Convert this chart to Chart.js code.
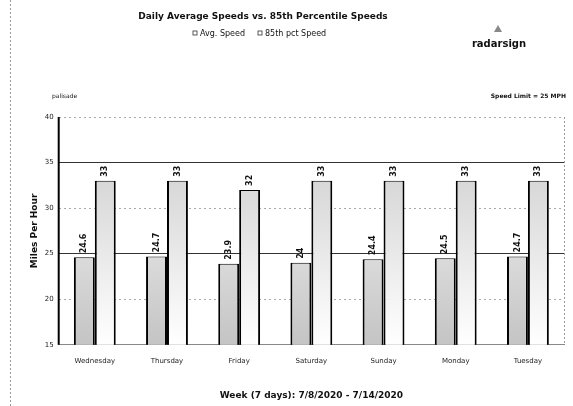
<!DOCTYPE html>
<html>
<head>
<meta charset="utf-8">
<script src="https://cdn.jsdelivr.net/npm/chart.js@4"></script>
<style>
  html, body { margin: 0; padding: 0; background: #fff; }
  #wrap { width: 573px; height: 406px; }
</style>
</head>
<body>
<div id="wrap"><canvas id="speedChart" width="573" height="406"></canvas></div>
<script>
// data
const days = ['Wednesday', 'Thursday', 'Friday', 'Saturday', 'Sunday', 'Monday', 'Tuesday'];
const avgSpeed = [24.6, 24.7, 23.9, 24, 24.4, 24.5, 24.7];
const pct85Speed = [33, 33, 32, 33, 33, 33, 33];
const yTicks = [15, 20, 25, 30, 35, 40];
const speedLimit = 25;

function fadeFill(ctx, topCol, bottomCol) {
    const area = ctx.chart.chartArea;
    if (!area) return topCol;
    const g = ctx.chart.ctx.createLinearGradient(0, area.top, 0, area.bottom);
    g.addColorStop(0, topCol);
    g.addColorStop(1, bottomCol);
    return g;
}

function strongLine(ctx) {
    return ctx.tick && (ctx.tick.value === speedLimit || ctx.tick.value === 35);
}

// labels above bars, turned on their side
const barLabels = {
    id: 'barLabels',
    afterDatasetsDraw(chart) {
        const c = chart.ctx;
        c.save();
        c.font = 'bold 8px "DejaVu Sans"';
        c.fillStyle = '#111';
        c.textAlign = 'left';
        c.textBaseline = 'middle';
        chart.data.datasets.forEach((ds, i) => {
            chart.getDatasetMeta(i).data.forEach((bar, j) => {
                c.save();
                c.translate(bar.x, bar.y - 4);
                c.rotate(-Math.PI / 2);
                c.fillText(String(ds.data[j]), 0, 0);
                c.restore();
            });
        });
        c.restore();
    }
};

// header texts, legend and page edge
const decor = {
    id: 'decor',
    afterDraw(chart) {
        const c = chart.ctx;
        const area = chart.chartArea;
        c.save();
        c.fillStyle = '#111';
        c.textBaseline = 'middle';
        c.textAlign = 'center';
        c.font = 'bold 9px "DejaVu Sans"';
        c.fillText('Daily Average Speeds vs. 85th Percentile Speeds', 263, 17);

        // legend
        c.font = '8px "DejaVu Sans"';
        c.textAlign = 'left';
        const items = [['Avg. Speed', 200], ['85th pct Speed', 265]];
        items.forEach(([t, x]) => {
            c.strokeStyle = '#333';
            c.lineWidth = 0.8;
            c.strokeRect(x - 7, 31, 4, 4);
            c.fillText(t, x, 33.5);
        });

        // logo
        c.textAlign = 'center';
        c.font = 'bold 10px "DejaVu Sans"';
        c.fillText('radarsign', 499, 44);
        c.fillStyle = '#888';
        c.beginPath();
        c.moveTo(498, 25); c.lineTo(494, 32); c.lineTo(502, 32); c.closePath();
        c.fill();

        c.fillStyle = '#111';
        c.font = '6px "DejaVu Sans"';
        c.textAlign = 'left';
        c.fillText('palisade', 52, 96);
        c.textAlign = 'right';
        c.font = 'bold 6px "DejaVu Sans"';
        c.fillText('Speed Limit = 25 MPH', 566, 96);

        // dashed page edge on the left
        c.strokeStyle = '#999';
        c.lineWidth = 1;
        c.setLineDash([2, 2]);
        c.beginPath();
        c.moveTo(10.5, 0); c.lineTo(10.5, 406);
        c.stroke();
        // dotted right frame
        c.beginPath();
        c.moveTo(area.right + 0.5, area.top); c.lineTo(area.right + 0.5, area.bottom);
        c.stroke();
        c.setLineDash([]);
        // thick left axis
        c.strokeStyle = '#000';
        c.lineWidth = 2;
        c.beginPath();
        c.moveTo(area.left, area.top); c.lineTo(area.left, area.bottom);
        c.stroke();
        c.restore();
    }
};

new Chart(document.getElementById('speedChart'), {
    type: 'bar',
    data: {
        labels: days,
        datasets: [{
            label: 'Avg. Speed',
            data: avgSpeed,
            backgroundColor: ctx => fadeFill(ctx, '#ffffff', '#c4c4c4'),
            borderColor: '#000',
            borderWidth: { left: 2, right: 2, top: 1, bottom: 0 },
            borderSkipped: false
        }, {
            label: '85th pct Speed',
            data: pct85Speed,
            backgroundColor: ctx => fadeFill(ctx, '#c8c8c8', '#ffffff'),
            borderColor: '#000',
            borderWidth: { left: 2, right: 2, top: 1, bottom: 0 },
            borderSkipped: false
        }]
    },
    options: {
        responsive: false,
        animation: false,
        layout: { padding: { top: 117, right: 9, left: 29, bottom: 5 } },
        categoryPercentage: 0.58,
        barPercentage: 1,
        plugins: {
            legend: { display: false },
            title: { display: false },
            tooltip: { enabled: false }
        },
        scales: {
            x: {
                grid: { display: false },
                border: { display: true, color: '#888', dash: [2, 2] },
                ticks: { color: '#222', font: { family: 'DejaVu Sans', size: 7 }, padding: 4, maxRotation: 0 },
                title: {
                    display: true,
                    text: 'Week (7 days): 7/8/2020 - 7/14/2020',
                    color: '#111',
                    font: { family: 'DejaVu Sans', size: 9, weight: 'bold' },
                    padding: { top: 21, bottom: 0 }
                }
            },
            y: {
                min: yTicks[0],
                max: yTicks[yTicks.length - 1],
                afterBuildTicks: axis => { axis.ticks = yTicks.map(v => ({ value: v })); },
                grid: {
                    color: ctx => strongLine(ctx) ? '#333' : '#aaa',
                    lineWidth: 1,
                    drawTicks: false
                },
                border: {
                    display: false,
                    dash: ctx => strongLine(ctx) ? [] : [2, 3]
                },
                ticks: { color: '#222', font: { family: 'DejaVu Sans', size: 7 }, padding: 5 },
                title: {
                    display: true,
                    text: 'Miles Per Hour',
                    color: '#111',
                    font: { family: 'DejaVu Sans', size: 9, weight: 'bold' },
                    padding: { top: 0, bottom: 0 }
                }
            }
        }
    },
    plugins: [barLabels, decor]
});
</script>
</body>
</html>
